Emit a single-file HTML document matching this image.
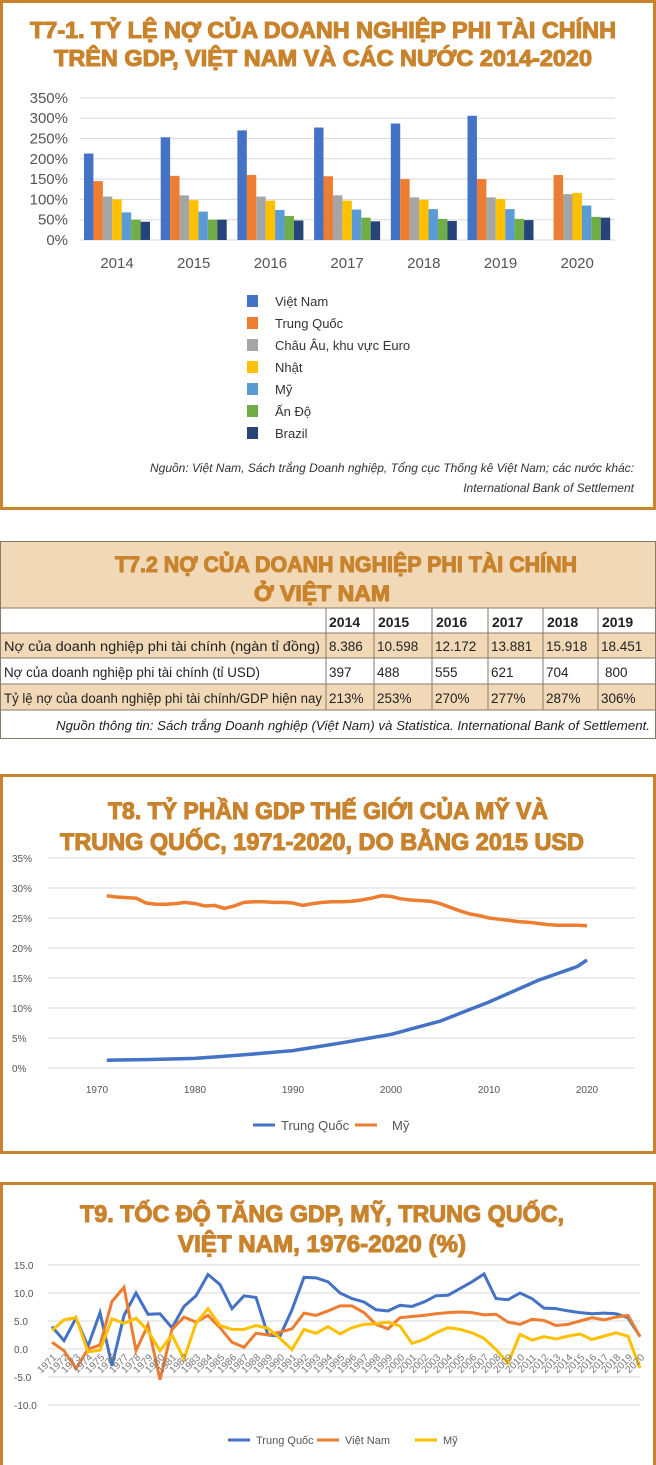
<!DOCTYPE html>
<html><head><meta charset="utf-8"><style>
html,body{margin:0;padding:0;background:#fff;}
svg{display:block;font-family:"Liberation Sans",sans-serif;}
.t{font-weight:bold;fill:#c8832c;stroke:#c8832c;stroke-width:1.1;}
</style></head><body>
<svg id="s" width="656" height="1465" viewBox="0 0 656 1465" xmlns="http://www.w3.org/2000/svg">
<rect x="1.5" y="1.5" width="653" height="507" fill="#fff" stroke="#c8832c" stroke-width="3"/>
<text class="t" font-weight="bold" x="30" y="38" font-size="23" textLength="586" lengthAdjust="spacingAndGlyphs">T7-1. TỶ LỆ NỢ CỦA DOANH NGHIỆP PHI TÀI CHÍNH</text>
<text class="t" font-weight="bold" x="54" y="66" font-size="23" textLength="538" lengthAdjust="spacingAndGlyphs">TRÊN GDP, VIỆT NAM VÀ CÁC NƯỚC 2014-2020</text>
<g id="c1"></g>
<g font-size="13" fill="#333">
<rect x="247" y="295" width="11" height="12" fill="#4472c4"/><text x="275" y="306">Việt Nam</text>
<rect x="247" y="317" width="11" height="12" fill="#ed7d31"/><text x="275" y="328">Trung Quốc</text>
<rect x="247" y="339" width="11" height="12" fill="#a5a5a5"/><text x="275" y="350">Châu Âu, khu vực Euro</text>
<rect x="247" y="361" width="11" height="12" fill="#ffc000"/><text x="275" y="372">Nhật</text>
<rect x="247" y="383" width="11" height="12" fill="#5b9bd5"/><text x="275" y="394">Mỹ</text>
<rect x="247" y="405" width="11" height="12" fill="#70ad47"/><text x="275" y="416">Ấn Độ</text>
<rect x="247" y="427" width="11" height="12" fill="#264478"/><text x="275" y="438">Brazil</text>
</g>
<g font-size="12" font-style="italic" fill="#333" text-anchor="end">
<text x="634" y="472">Nguồn: Việt Nam, Sách trắng Doanh nghiệp, Tổng cục Thống kê Việt Nam; các nước khác:</text>
<text x="634" y="492">International Bank of Settlement</text>
</g>

<rect x="0" y="541" width="656" height="67" fill="#f1d9b8"/>
<text class="t" font-weight="bold" x="115" y="572" font-size="22" textLength="462" lengthAdjust="spacingAndGlyphs">T7.2 NỢ CỦA DOANH NGHIỆP PHI TÀI CHÍNH</text>
<text class="t" font-weight="bold" x="254" y="601" font-size="22" textLength="136" lengthAdjust="spacingAndGlyphs">Ở VIỆT NAM</text>
<rect x="0" y="608" width="656" height="25" fill="#fff"/>
<rect x="0" y="633" width="656" height="25" fill="#f1d9b8"/>
<rect x="0" y="658" width="656" height="26" fill="#fff"/>
<rect x="0" y="684" width="656" height="26" fill="#f1d9b8"/>
<g stroke="#8a7a6a" stroke-width="1" fill="none">
<rect x="0.5" y="541.5" width="655" height="197"/>
<line x1="0" y1="608" x2="656" y2="608"/><line x1="0" y1="633" x2="656" y2="633"/>
<line x1="0" y1="658" x2="656" y2="658"/><line x1="0" y1="684" x2="656" y2="684"/>
<line x1="0" y1="710" x2="656" y2="710"/>
<line x1="326" y1="608" x2="326" y2="710"/><line x1="374" y1="608" x2="374" y2="710"/>
<line x1="432" y1="608" x2="432" y2="710"/><line x1="488" y1="608" x2="488" y2="710"/>
<line x1="543" y1="608" x2="543" y2="710"/><line x1="598" y1="608" x2="598" y2="710"/>
</g>
<g font-size="14" fill="#222" font-weight="bold">
<text x="329" y="627">2014</text><text x="378" y="627">2015</text><text x="436" y="627">2016</text><text x="492" y="627">2017</text><text x="547" y="627">2018</text><text x="602" y="627">2019</text>
</g>
<g font-size="13.5" fill="#222">
<text x="4" y="651" textLength="316" lengthAdjust="spacingAndGlyphs">Nợ của doanh nghiệp phi tài chính (ngàn tỉ đồng)</text>
<text x="329" y="651">8.386</text><text x="377" y="651">10.598</text><text x="435" y="651">12.172</text><text x="491" y="651">13.881</text><text x="546" y="651">15.918</text><text x="601" y="651">18.451</text>
<text x="4" y="677" textLength="256" lengthAdjust="spacingAndGlyphs">Nợ của doanh nghiệp phi tài chính (tỉ USD)</text>
<text x="329" y="677">397</text><text x="377" y="677">488</text><text x="435" y="677">555</text><text x="491" y="677">621</text><text x="546" y="677">704</text><text x="605" y="677">800</text>
<text x="4" y="703" textLength="318" lengthAdjust="spacingAndGlyphs">Tỷ lệ nợ của doanh nghiệp phi tài chính/GDP hiện nay</text>
<text x="329" y="703">213%</text><text x="377" y="703">253%</text><text x="435" y="703">270%</text><text x="491" y="703">277%</text><text x="546" y="703">287%</text><text x="601" y="703">306%</text>
</g>
<text x="650" y="730" font-size="12.5" font-style="italic" fill="#222" text-anchor="end" textLength="594" lengthAdjust="spacingAndGlyphs">Nguồn thông tin: Sách trắng Doanh nghiệp (Việt Nam) và Statistica. International Bank of Settlement.</text>

<rect x="1.5" y="775.5" width="653" height="377" fill="#fff" stroke="#c8832c" stroke-width="3"/>
<text class="t" font-weight="bold" x="108" y="819" font-size="24" textLength="440" lengthAdjust="spacingAndGlyphs">T8. TỶ PHẦN GDP THẾ GIỚI CỦA MỸ VÀ</text>
<text class="t" font-weight="bold" x="60" y="850" font-size="24" textLength="524" lengthAdjust="spacingAndGlyphs">TRUNG QUỐC, 1971-2020, DO BẰNG 2015 USD</text>
<g id="c3"></g>
<line x1="253" y1="1125" x2="275" y2="1125" stroke="#4472c4" stroke-width="3"/>
<text x="281" y="1130" font-size="13" fill="#555">Trung Quốc</text>
<line x1="355" y1="1125" x2="377" y2="1125" stroke="#ed7d31" stroke-width="3"/>
<text x="392" y="1130" font-size="13" fill="#555">Mỹ</text>

<rect x="1.5" y="1183.5" width="653" height="285" fill="#fff" stroke="#c8832c" stroke-width="3"/>
<text class="t" font-weight="bold" x="80" y="1222" font-size="24" textLength="484" lengthAdjust="spacingAndGlyphs">T9. TỐC ĐỘ TĂNG GDP, MỸ, TRUNG QUỐC,</text>
<text class="t" font-weight="bold" x="178" y="1252" font-size="24" textLength="288" lengthAdjust="spacingAndGlyphs">VIỆT NAM, 1976-2020 (%)</text>
<g id="c4"></g>
<line x1="228" y1="1440" x2="250" y2="1440" stroke="#4472c4" stroke-width="3"/>
<text x="256" y="1444" font-size="11" fill="#555">Trung Quốc</text>
<line x1="317" y1="1440" x2="339" y2="1440" stroke="#ed7d31" stroke-width="3"/>
<text x="345" y="1444" font-size="11" fill="#555">Việt Nam</text>
<line x1="415" y1="1440" x2="437" y2="1440" stroke="#ffc000" stroke-width="3"/>
<text x="443" y="1444" font-size="11" fill="#555">Mỹ</text>
</svg>
<script>
var NS="http://www.w3.org/2000/svg";
function el(p,t,a,txt){var e=document.createElementNS(NS,t);for(var k in a)e.setAttribute(k,a[k]);if(txt!=null)e.textContent=txt;p.appendChild(e);return e;}
var c1=document.getElementById("c1");
var y0=240,k=20.3/50;
for(var v=0;v<=350;v+=50){var y=y0-v*k;el(c1,"line",{x1:80,x2:615,y1:y,y2:y,stroke:"#d9d9d9","stroke-width":1});el(c1,"text",{x:68,y:y+5,"font-size":15,fill:"#555","text-anchor":"end"},v+"%");}
var cols=["#4472c4","#ed7d31","#a5a5a5","#ffc000","#5b9bd5","#70ad47","#264478"];
var d1=[[213,145,107,100,68,50,45],[253,158,110,98,70,50,50],[270,160,107,97,74,59,48],[277,157,110,97,75,55,46],[287,150,105,99,76,52,47],[306,150,105,101,76,52,49],[0,160,113,116,85,57,55]];
for(var i=0;i<7;i++){var c=117+i*76.7;for(var j=0;j<7;j++){var h=d1[i][j]*k;if(h>0)el(c1,"rect",{x:c-33+j*9.43,y:y0-h,width:9.43,height:h,fill:cols[j]});}
el(c1,"text",{x:c,y:268,"font-size":15,fill:"#555","text-anchor":"middle"},2014+i);}
var c3=document.getElementById("c3");
for(var v=0;v<=35;v+=5){var y=1068-v*6;el(c3,"line",{x1:48,x2:635,y1:y,y2:y,stroke:"#d9d9d9"});el(c3,"text",{x:12,y:y+4,"font-size":10,fill:"#555"},v+"%");}
for(var yr=1970;yr<=2020;yr+=10)el(c3,"text",{x:97+(yr-1970)*9.8,y:1093,"font-size":10,fill:"#555","text-anchor":"middle"},yr);
var us=[28.7,28.5,28.4,28.3,27.5,27.3,27.3,27.4,27.6,27.4,27.0,27.1,26.6,27.0,27.6,27.7,27.7,27.6,27.6,27.5,27.1,27.4,27.6,27.7,27.7,27.8,28.0,28.3,28.7,28.6,28.2,28.0,27.9,27.8,27.4,26.8,26.2,25.7,25.4,25.0,24.8,24.6,24.4,24.3,24.1,23.9,23.8,23.8,23.8,23.7];
var cnK={1971:1.3,1975:1.4,1980:1.6,1985:2.2,1990:2.9,1995:4.2,2000:5.6,2005:7.8,2010:11,2015:14.6,2019:16.9,2020:18};
var ks=Object.keys(cnK).map(Number);
function cn(yr){for(var i=0;i<ks.length-1;i++)if(yr>=ks[i]&&yr<=ks[i+1]){var t=(yr-ks[i])/(ks[i+1]-ks[i]);return cnK[ks[i]]+t*(cnK[ks[i+1]]-cnK[ks[i]]);}}
var pu="",pc="";for(var i=0;i<50;i++){var x=97+(i+1)*9.8;pu+=(i?"L":"M")+x+","+(1068-us[i]*6);pc+=(i?"L":"M")+x+","+(1068-cn(1971+i)*6);}
el(c3,"path",{d:pc,fill:"none",stroke:"#4472c4","stroke-width":3.5});
el(c3,"path",{d:pu,fill:"none",stroke:"#ed7d31","stroke-width":3.5});
var c4=document.getElementById("c4");
for(var v=-10;v<=15;v+=5){var y=1349-v*5.6;el(c4,"line",{x1:48,x2:640,y1:y,y2:y,stroke:"#d9d9d9"});el(c4,"text",{x:14,y:y+4,"font-size":10,fill:"#555"},v.toFixed(1));}
var ch=[4,1.5,5.5,0.5,6.5,-3,6,10,6.2,6.3,3.8,7.6,9.5,13.3,11.5,7.2,9.5,9.2,2.5,2.3,7,12.8,12.7,12,10,9,8.4,7,6.8,7.8,7.6,8.4,9.5,9.6,10.8,12,13.4,9,8.8,10,9,7.3,7.2,6.8,6.5,6.3,6.4,6.3,5.6,2.2];
var vn=[1.2,-0.3,-3.5,0,0.7,8.5,11,-0.3,4.3,-5.5,3.5,5.7,4.8,6,3.8,1.2,0.3,2.8,2.5,3,3.6,6.4,6,6.8,7.7,7.7,6.5,4.4,3.6,5.6,5.8,6,6.3,6.5,6.6,6.5,6.1,6.2,4.8,4.4,5.3,5.1,4.2,4.4,5,5.6,5.2,5.7,6,2.2];
var u=[3.3,5.2,5.6,-0.5,-0.2,5.4,4.6,5.5,3.2,-0.3,2.5,-1.8,4.6,7.2,4.2,3.5,3.5,4.2,3.7,1.9,-0.1,3.5,2.8,4,2.7,3.8,4.4,4.5,4.8,4.1,1,1.7,2.9,3.8,3.5,2.9,1.9,-0.1,-2.5,2.6,1.6,2.2,1.8,2.3,2.7,1.7,2.3,2.9,2.3,-3.4];
function P(a){var s="";for(var i=0;i<50;i++)s+=(i?"L":"M")+(52+i*12)+","+(1349-a[i]*5.6);return s;}
el(c4,"path",{d:P(ch),fill:"none",stroke:"#4472c4","stroke-width":3});
el(c4,"path",{d:P(vn),fill:"none",stroke:"#ed7d31","stroke-width":3});
el(c4,"path",{d:P(u),fill:"none",stroke:"#ffc000","stroke-width":3});
for(var i=0;i<50;i++){var x=52+i*12+5,y=1358;el(c4,"text",{x:x,y:y,"font-size":10,fill:"#777","text-anchor":"end",transform:"rotate(-45 "+x+" "+y+")"},1971+i);}
</script>
</body></html>
